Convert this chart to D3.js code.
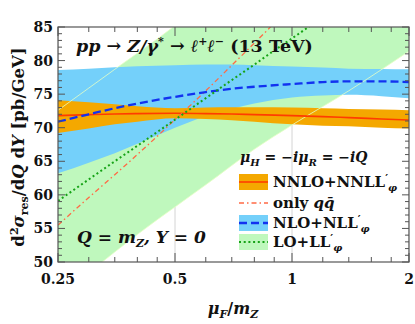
<!DOCTYPE html>
<html>
<head>
<meta charset="utf-8">
<script src="https://cdn.jsdelivr.net/npm/d3@7"></script>
<style>
  body { margin: 0; background: #fff; }
  svg text { font-family: "DejaVu Serif", serif; font-weight: bold; fill: #111; }
</style>
</head>
<body>
<div id="chart"></div>
<script>
/**
 * CONSTANTS AND GLOBALS
 * */
const width = 415,
    height = 324,
    margin = { top: 27, bottom: 62, left: 58, right: 6 };

// x tick values (mu_F / m_Z, log axis)
const xMajor = [0.25, 0.5, 1, 2];
const xMinor = [0.3, 0.35, 0.4, 0.45, 0.6, 0.7, 0.8, 0.9, 1.2, 1.4, 1.6, 1.8];
const xLabels = ["0.25", "0.5", "1", "2"];
const yMajor = [50, 55, 60, 65, 70, 75, 80, 85];

// shared scale points for the bands
const muBand = [0.25, 0.3, 0.35, 0.4, 0.5, 0.6, 0.7, 0.8, 1, 1.2, 1.4, 1.7, 2];

// NNLO+NNLL' band and central
const nnloLo = [69.2, 69.9, 70.5, 70.9, 71.4, 71.3, 71.1, 70.9, 70.5, 70.3, 70.2, 70.0, 69.9];
const nnloHi = [74.1, 73.8, 73.5, 73.2, 72.9, 73.0, 73.05, 73.05, 73.0, 72.9, 72.8, 72.7, 72.6];
const nnloMid = [71.8, 71.95, 72.05, 72.1, 72.15, 72.1, 72.05, 71.95, 71.8, 71.65, 71.5, 71.3, 71.15];

// NLO+NLL' band and central
const nloLo = [63.2, 64.8, 66.2, 67.6, 70.0, 71.7, 72.8, 73.6, 74.5, 74.8, 74.9, 74.7, 74.4];
const nloHi = [78.6, 78.8, 79.0, 79.15, 79.3, 79.4, 79.4, 79.3, 79.1, 78.95, 78.8, 78.75, 78.7];
const nloMid = [70.9, 72.0, 72.9, 73.6, 74.6, 75.3, 75.8, 76.1, 76.5, 76.8, 76.9, 76.9, 76.8];

// LO+LL' band (runs off the frame) and central
const muLo = [0.25, 0.3, 0.35, 0.4, 0.45, 0.5, 0.6, 0.8, 1, 1.4, 2];
const loLo = [44.8, 48.4, 51.5, 54.1, 56.3, 58.2, 61.5, 66.8, 70.4, 75.5, 81.4];
const loHi = [72.6, 75.9, 78.7, 81.1, 83.2, 85.2, 88.4, 93, 96.5, 101, 106];
const muLine = [0.25, 0.3, 0.35, 0.4, 0.5, 0.6, 0.7, 0.8, 0.9, 1, 1.2];
const loMid = [59.1, 62.3, 65.0, 67.3, 71.2, 74.4, 77.1, 79.4, 81.5, 83.3, 86.5];

// only q qbar channel
const qqMid = [55.5, 59.6, 63.0, 66.0, 71.2, 75.5, 79.3, 82.6, 85.6, 88.6, 94];

const colors = {
    orange: "#f4a800",
    red: "#ff3c00",
    redDash: "#ff6a45",
    blueBand: "#74d0fa",
    blue: "#1232f0",
    greenBand: "#bff8bd",
    green: "#16a316",
};

/**
 * SCALES
 * */
const x = d3.scaleLog()
    .domain([0.25, 2])
    .range([margin.left, width - margin.right]);
const y = d3.scaleLinear()
    .domain([50, 85])
    .range([height - margin.bottom, margin.top]);

const svg = d3.select("#chart")
    .append("svg")
    .attr("width", width)
    .attr("height", height);

svg.append("clipPath")
    .attr("id", "plot-clip")
    .append("rect")
    .attr("x", margin.left)
    .attr("y", margin.top)
    .attr("width", width - margin.left - margin.right)
    .attr("height", height - margin.top - margin.bottom);

const plot = svg.append("g").attr("clip-path", "url(#plot-clip)");

// light vertical grid at the major x ticks
plot.selectAll(".grid")
    .data(xMajor)
    .join("line")
    .attr("class", "grid")
    .attr("x1", d => x(d)).attr("x2", d => x(d))
    .attr("y1", margin.top).attr("y2", height - margin.bottom)
    .attr("stroke", "#d4d4d4")
    .attr("stroke-width", 1);

// helpers
const band = (mu, lo, hi) => d3.area()
    .x((d, i) => x(mu[i]))
    .y0((d, i) => y(lo[i]))
    .y1((d, i) => y(hi[i]))
    .curve(d3.curveMonotoneX)(mu);
const curve = (mu, vals) => d3.line()
    .x((d, i) => x(mu[i]))
    .y((d, i) => y(vals[i]))
    .curve(d3.curveMonotoneX)(mu);

// bands, back to front
plot.append("path").attr("d", band(muLo, loLo, loHi)).attr("fill", colors.greenBand);
plot.append("path").attr("d", band(muBand, nloLo, nloHi)).attr("fill", colors.blueBand);
plot.append("path").attr("d", band(muBand, nnloLo, nnloHi)).attr("fill", colors.orange);

// faint seam lines along the LO band edges
[loLo, loHi].forEach(v => {
    plot.append("path").attr("d", curve(muLo, v))
        .attr("fill", "none")
        .attr("stroke", "#e6ffc4")
        .attr("stroke-width", 1)
        .attr("opacity", 0.8);
});

// central curves
plot.append("path").attr("d", curve(muBand, nnloMid))
    .attr("fill", "none").attr("stroke", colors.red).attr("stroke-width", 1.6);
plot.append("path").attr("d", curve(muLine, qqMid))
    .attr("fill", "none").attr("stroke", colors.redDash).attr("stroke-width", 1.3)
    .attr("stroke-dasharray", "5,3,1.5,3");
plot.append("path").attr("d", curve(muBand, nloMid))
    .attr("fill", "none").attr("stroke", colors.blue).attr("stroke-width", 2.3)
    .attr("stroke-dasharray", "8,4");
plot.append("path").attr("d", curve(muLine, loMid))
    .attr("fill", "none").attr("stroke", colors.green).attr("stroke-width", 2)
    .attr("stroke-dasharray", "2,2.7");

/**
 * AXES (ticks inward on all four sides)
 * */
const axisColor = "#555";
const x0 = margin.left, x1 = width - margin.right;
const y0 = height - margin.bottom, y1 = margin.top;

const ticks = svg.append("g").attr("stroke", axisColor).attr("stroke-width", 1);
xMajor.concat(xMinor).forEach(v => {
    const len = xMajor.includes(v) ? 9 : 5;
    ticks.append("line").attr("x1", x(v)).attr("x2", x(v)).attr("y1", y0).attr("y2", y0 - len);
    ticks.append("line").attr("x1", x(v)).attr("x2", x(v)).attr("y1", y1).attr("y2", y1 + len);
});
d3.range(50, 86, 1).forEach(v => {
    const len = v % 5 === 0 ? 7 : 4;
    ticks.append("line").attr("x1", x0).attr("x2", x0 + len).attr("y1", y(v)).attr("y2", y(v));
    ticks.append("line").attr("x1", x1).attr("x2", x1 - len).attr("y1", y(v)).attr("y2", y(v));
});

svg.append("rect")
    .attr("x", x0).attr("y", y1)
    .attr("width", x1 - x0).attr("height", y0 - y1)
    .attr("fill", "none").attr("stroke", axisColor).attr("stroke-width", 1.2);

svg.selectAll(".xlab")
    .data(xMajor)
    .join("text")
    .attr("class", "xlab")
    .attr("x", d => x(d))
    .attr("y", 284)
    .attr("text-anchor", "middle")
    .attr("font-size", 14)
    .text((d, i) => xLabels[i]);

svg.selectAll(".ylab")
    .data(yMajor)
    .join("text")
    .attr("class", "ylab")
    .attr("x", 53)
    .attr("y", d => y(d) + 5)
    .attr("text-anchor", "end")
    .attr("font-size", 14)
    .text(d => d);

// axis titles
const xt = svg.append("text")
    .attr("x", 233).attr("y", 314)
    .attr("text-anchor", "middle")
    .attr("font-size", 16)
    .attr("font-style", "italic");
xt.append("tspan").text("μ");
xt.append("tspan").attr("font-size", 11).attr("dy", 4).text("F");
xt.append("tspan").attr("dy", -4).attr("font-style", "normal").text("/");
xt.append("tspan").text("m");
xt.append("tspan").attr("font-size", 11).attr("dy", 4).text("Z");

const yt = svg.append("text")
    .attr("transform", "translate(24,147) rotate(-90)")
    .attr("text-anchor", "middle")
    .attr("font-size", 16.5);
yt.append("tspan").text("d");
yt.append("tspan").attr("font-size", 11).attr("dy", -6).text("2");
yt.append("tspan").attr("dy", 6).attr("font-style", "italic").text("σ");
yt.append("tspan").attr("font-size", 11).attr("dy", 4).text("res");
yt.append("tspan").attr("dy", -4).text("/d");
yt.append("tspan").attr("font-style", "italic").text("Q");
yt.append("tspan").text(" d");
yt.append("tspan").attr("font-style", "italic").text("Y");
yt.append("tspan").text(" [pb/GeV]");

// process label
const tt = svg.append("text")
    .attr("x", 76).attr("y", 52)
    .attr("font-size", 17.5)
    .attr("font-style", "italic");
tt.append("tspan").text("pp → Z/γ");
tt.append("tspan").attr("font-size", 11).attr("dy", -7).text("*");
tt.append("tspan").attr("dy", 7).text(" → ℓ");
tt.append("tspan").attr("font-size", 11).attr("dy", -7).text("+");
tt.append("tspan").attr("dy", 7).text("ℓ");
tt.append("tspan").attr("font-size", 11).attr("dy", -7).text("−");
tt.append("tspan").attr("dy", 7).attr("font-style", "normal").text(" (13 TeV)");

const qt = svg.append("text")
    .attr("x", 77).attr("y", 243)
    .attr("font-size", 17)
    .attr("font-style", "italic");
qt.append("tspan").text("Q = m");
qt.append("tspan").attr("font-size", 11).attr("dy", 4).text("Z");
qt.append("tspan").attr("dy", -4).text(", Y = 0");

/**
 * LEGEND
 * */
const ht = svg.append("text")
    .attr("x", 240).attr("y", 162)
    .attr("font-size", 14)
    .attr("font-style", "italic");
ht.append("tspan").text("μ");
ht.append("tspan").attr("font-size", 10).attr("dy", 4).text("H");
ht.append("tspan").attr("dy", -4).text(" = −iμ");
ht.append("tspan").attr("font-size", 10).attr("dy", 4).text("R");
ht.append("tspan").attr("dy", -4).text(" = −iQ");

const legendRows = [
    { name: "NNLO+NNLL", prime: true, fill: colors.orange, stroke: colors.red, dash: null, w: 1.6 },
    { name: "only ", qq: true, fill: null, stroke: colors.redDash, dash: "5,3,1.5,3", w: 1.3 },
    { name: "NLO+NLL", prime: true, fill: colors.blueBand, stroke: colors.blue, dash: "8,4", w: 2.3 },
    { name: "LO+LL", prime: true, fill: colors.greenBand, stroke: colors.green, dash: "2,2.7", w: 2 },
];
const legendY = [182, 203, 223, 242];

legendRows.forEach((r, i) => {
    const cy = legendY[i];
    if (r.fill) {
        svg.append("rect").attr("x", 239).attr("y", cy - 8).attr("width", 29).attr("height", 16).attr("fill", r.fill);
    }
    svg.append("line").attr("x1", 239).attr("x2", 268).attr("y1", cy).attr("y2", cy)
        .attr("stroke", r.stroke).attr("stroke-width", r.w)
        .attr("stroke-dasharray", r.dash);
    const t = svg.append("text").attr("x", 273).attr("y", cy + 5).attr("font-size", 15);
    t.append("tspan").text(r.name);
    if (r.prime) {
        t.append("tspan").attr("font-size", 11).attr("dy", -5).text("′");
        t.append("tspan").attr("font-size", 10).attr("font-style", "italic").attr("dy", 9).text("φ");
    }
    if (r.qq) {
        t.append("tspan").attr("font-style", "italic").text("q");
        t.append("tspan").attr("font-style", "italic").text("q̄");
    }
});
</script>
</body>
</html>
